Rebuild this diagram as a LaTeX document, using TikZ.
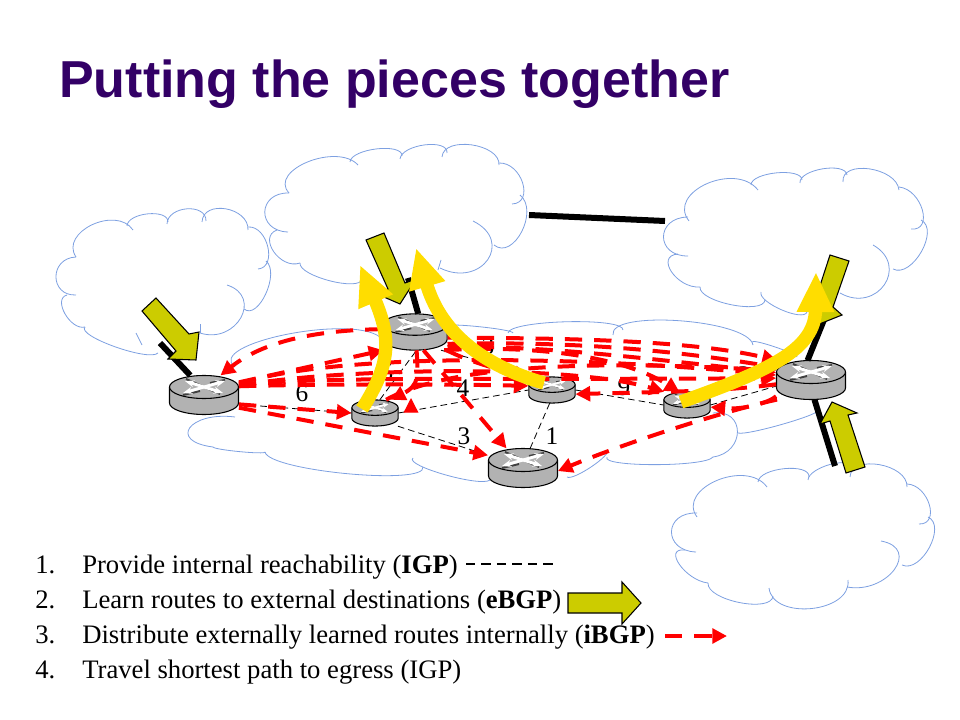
\documentclass[tikz,border=0pt]{standalone}
\usepackage{fontspec}
\setmainfont{Liberation Serif}
\newfontfamily\titlefont{Liberation Sans}
\usetikzlibrary{arrows.meta,calc}

\definecolor{titlepurple}{RGB}{51,0,102}
\definecolor{cloudblue}{RGB}{125,160,225}
\definecolor{oliveblock}{RGB}{204,204,0}
\definecolor{routergray}{RGB}{178,178,178}
\definecolor{pathyellow}{RGB}{255,221,0}

\tikzset{
  cloudline/.style={draw=cloudblue,line width=0.6pt},
  igplink/.style={draw=black,line width=0.6pt,dash pattern=on 5pt off 3pt},
  ebgplink/.style={draw=black,line width=4.5pt},
  ibgplink/.style={draw=red,line width=3pt,dash pattern=on 13pt off 9pt,-{Triangle[length=11pt,width=11pt]}},
  egresspath/.style={draw=pathyellow,line width=10pt,-{Triangle[length=30pt,width=26pt]}},
  learnarrow/.style={draw=black,line width=0.8pt,fill=oliveblock},
  costlabel/.style={inner sep=0pt,font=\fontsize{19}{19}\selectfont},
  legendtext/.style={anchor=base west,inner sep=0pt,font=\fontsize{20}{22}\selectfont},
}

% start, middle, end of one arc of a cloud
\newcommand{\lobe}[3]{\draw [cloudline] #1 .. controls ($0.333*#1+1.333*#2-0.667*#3$) and ($0.333*#3+1.333*#2-0.667*#1$) .. #3 ;}

% name, centre, scale
\newcommand{\router}[3]{
\begin{scope}[shift={#2},scale=#3]
\draw [fill=routergray,line width=0.8pt] (-34.5,-8) -- (-34.5,8) arc [start angle=180,end angle=0,x radius=34.5,y radius=11.5] -- (34.5,-8) ;
\draw [fill=routergray,line width=0.8pt] (0,-8) ellipse [x radius=34.5,y radius=11.5] ;
\draw [black!75,line width=#3*1.5pt] (-21,0) -- (-4,-4) (21,-15) -- (6,-12) (-18,-16) -- (16,-1) ;
\draw [white,line width=#3*2.2pt,{Stealth[length=#3*7pt]}-{Stealth[length=#3*7pt]}] (-21,-2) -- (21,-14) ;
\draw [white,line width=#3*2.2pt,{Stealth[length=#3*7pt]}-{Stealth[length=#3*7pt]}] (-19,-14) -- (19,-2) ;
\node (#1) [inner sep=0pt,minimum width=#3*52pt,minimum height=#3*29pt] at (0,0) {};
\end{scope}
}

\begin{document}
\begin{tikzpicture}[x=0.75pt,y=0.75pt,yscale=-1,xscale=1]
\useasboundingbox (0,0) rectangle (960,720);

% Title
\node (title) [anchor=base west,inner sep=0pt,text=titlepurple,font=\titlefont\bfseries\fontsize{39}{40}\selectfont] at (59,98) {Putting the pieces together};

% Left cloud
\lobe{(76,257)}{(92,225)}{(133,230)}
\lobe{(127,226)}{(148,214)}{(168,222)}
\lobe{(167,224)}{(187,209)}{(206,221)}
\lobe{(202,222)}{(226,209)}{(248,230)}
\lobe{(248,227)}{(268,247)}{(258,269)}
\lobe{(266,261)}{(266,294)}{(244,309)}
\lobe{(227,285)}{(241,318)}{(200,333)}
\draw [cloudline] (200,324) -- (200,333) ;
\lobe{(76,295)}{(56,277)}{(76,257)}
\lobe{(67,295)}{(65,314)}{(85,327)}
\lobe{(85,327)}{(115,347)}{(158,353)}
\draw [cloudline] (136,333) -- (142,345) ;
% Top cloud
\lobe{(289,193)}{(308,162)}{(358,165)}
\lobe{(350,162)}{(377,149)}{(402,156)}
\lobe{(400,159)}{(425,145)}{(447,153)}
\lobe{(442,157)}{(472,145)}{(499,165)}
\lobe{(499,163)}{(523,183)}{(512,204)}
\lobe{(520,195)}{(522,232)}{(494,245)}
\lobe{(473,221)}{(488,260)}{(440,268)}
\draw [cloudline] (441,260) -- (438,270) ;
\lobe{(289,193)}{(265,212)}{(288,232)}
\lobe{(277,230)}{(274,252)}{(300,263)}
\lobe{(300,263)}{(330,281)}{(362,279)}
% Right top cloud
\lobe{(689,221)}{(707,184)}{(758,190)}
\lobe{(751,185)}{(777,173)}{(802,180)}
\lobe{(800,183)}{(823,169)}{(847,175)}
\lobe{(843,182)}{(870,169)}{(899,190)}
\lobe{(899,187)}{(923,210)}{(911,229)}
\lobe{(921,220)}{(922,252)}{(893,269)}
\lobe{(873,245)}{(885,285)}{(840,293)}
\lobe{(688,217)}{(664,237)}{(688,256)}
\lobe{(678,254)}{(672,272)}{(700,287)}
\lobe{(700,287)}{(732,305)}{(765,300)}
\lobe{(761,292)}{(782,310)}{(807,312)}
% Right bottom cloud
\lobe{(697,517)}{(717,481)}{(767,487)}
\lobe{(758,482)}{(785,469)}{(809,477)}
\lobe{(808,480)}{(830,465)}{(850,468)}
\lobe{(850,477)}{(880,465)}{(907,487)}
\lobe{(907,484)}{(930,505)}{(919,524)}
\lobe{(928,517)}{(930,548)}{(902,565)}
\lobe{(881,541)}{(895,570)}{(847,587)}
\lobe{(848,580)}{(812,609)}{(769,588)}
\lobe{(773,596)}{(740,603)}{(708,583)}
\lobe{(708,583)}{(680,565)}{(685,550)}
\lobe{(696,552)}{(672,532)}{(697,513)}
% Centre cloud
\lobe{(235,367)}{(285,335)}{(380,337)}
\lobe{(445,326)}{(480,327)}{(513,333)}
\lobe{(508,333)}{(567,322)}{(623,330)}
\lobe{(613,335)}{(680,321)}{(753,345)}
\lobe{(752,342)}{(775,347)}{(797,357)}
\lobe{(817,410)}{(785,424)}{(738,433)}
\lobe{(713,413)}{(738,432)}{(713,457)}
\lobe{(713,457)}{(655,465)}{(607,457)}
\lobe{(607,450)}{(592,467)}{(567,477)}
\lobe{(235,417)}{(190,428)}{(213,447)}
\lobe{(213,447)}{(240,452)}{(265,452)}
\lobe{(265,452)}{(347,474)}{(423,467)}
\lobe{(413,458)}{(445,475)}{(490,480)}

% Outer links
\coordinate (leftedge) at (160,343);
\coordinate (topedge) at (408,278);
\coordinate (topright) at (529,215);
\coordinate (rightedge) at (665,221);
\coordinate (rightup) at (832,300);
\coordinate (rightdown) at (835,466);

% Routers
\router{Rleft}{(204,395)}{1}
\router{Rtop}{(415,332)}{0.93}
\router{Rmid}{(375,413)}{0.67}
\router{Rcore}{(552,390)}{0.67}
\router{Rnear}{(687,405)}{0.67}
\router{Rright}{(811,380)}{1}
\router{Rbottom}{(523,468)}{1}

\draw [ebgplink] (leftedge) -- (Rleft.125) ;
\draw [ebgplink] (topedge) -- (Rtop.80) ;
\draw [ebgplink] (topright) -- (rightedge) ;
\draw [ebgplink] (rightup) -- (Rright.100) ;
\draw [ebgplink] (rightdown) -- (Rright.-80) ;

% Internal links
\draw [igplink] (Rleft.-15) -- (Rmid.west) ;
\draw [igplink] (Rmid.70) -- (Rtop.-85) ;
\draw [igplink] (Rtop.-35) -- (Rcore.135) ;
\draw [igplink] (Rmid.east) -- (Rcore.west) ;
\draw [igplink] (Rmid.-30) -- (Rbottom.160) ;
\draw [igplink] (Rcore.-100) -- (Rbottom.70) ;
\draw [igplink] (Rcore.east) -- (Rnear.west) ;
\draw [igplink] (Rnear.east) -- (Rright.190) ;

% Costs
\node (costa) [costlabel] at (302,393) {6};
\node (costb) [costlabel] at (463,388) {4};
\node (costc) [costlabel] at (624,387) {9};
\node (costd) [costlabel] at (464,436) {3};
\node (coste) [costlabel] at (552,436) {1};
\node (costf) [costlabel] at (488,346) {3};
\node (costg) [costlabel] at (387,372) {5};
\node (costh) [costlabel] at (744,375) {2};

% iBGP mesh
\draw [ibgplink] (Rtop.175) .. controls (320,330) and (265,340) .. (Rleft.50) ;
\draw [ibgplink] (Rleft.20) -- (Rtop.-150) ;
\draw [ibgplink] (Rleft.16) .. controls (320,376) and (500,380) .. (Rright.177) ;
\draw [ibgplink] (Rleft.14) .. controls (310,384) and (440,384) .. (Rcore.170) ;
\draw [ibgplink] (Rleft.18) .. controls (340,352) and (580,356) .. (Rright.172) ;
\draw [ibgplink] (Rleft.15) .. controls (340,368) and (570,364) .. (Rnear.150) ;
\draw [ibgplink] (Rleft.-15) -- (Rmid.west) ;
\draw [ibgplink] (Rleft.-20) -- (Rbottom.160) ;
\draw [ibgplink] (Rtop.-10) .. controls (560,338) and (690,340) .. (Rright.150) ;
\draw [ibgplink] (Rtop.-20) .. controls (540,342) and (640,345) .. (Rright.160) ;
\draw [ibgplink] (Rtop.-25) .. controls (540,345) and (640,358) .. (Rright.168) ;
\draw [ibgplink] (Rtop.-30) .. controls (470,362) and (500,370) .. (Rcore.150) ;
\draw [ibgplink] (Rtop.-32) .. controls (530,345) and (620,355) .. (Rnear.120) ;
\draw [ibgplink] (Rmid.50) .. controls (440,370) and (560,358) .. (Rright.165) ;
\draw [ibgplink] (Rtop.-85) .. controls (418,375) and (420,385) .. (Rmid.40) ;
\draw [ibgplink] (Rtop.-65) -- (Rbottom.130) ;
\draw [ibgplink] (Rright.-173) .. controls (720,392) and (650,392) .. (Rcore.-10) ;
\draw [ibgplink] (Rright.-155) .. controls (770,402) and (745,410) .. (Rnear.-5) ;
\draw [ibgplink] (Rright.-150) .. controls (720,412) and (620,445) .. (Rbottom.-5) ;
\coordinate (stubfoot) at (411,409);
\coordinate (stubtip) at (411,398);
\draw [draw=red,line width=1pt,-{Triangle[length=11pt,width=11pt]}] (stubfoot) -- (stubtip) ;

% Learned routes
\draw [learnarrow] (142,311) -- (156,298) -- (189,334) -- (199,332) -- (196,360) -- (168,359) -- (176,351) -- cycle ;
\draw [learnarrow] (366,240) -- (384,233) -- (405,283) -- (416,279) -- (400,304) -- (377,294) -- (388,289) -- cycle ;
\draw [learnarrow] (830,255) -- (849,261) -- (833,307) -- (842,315) -- (817,325) -- (806,298) -- (815,301) -- cycle ;
\draw [learnarrow] (846,473) -- (865,467) -- (848,415) -- (857,413) -- (832,402) -- (820,424) -- (830,421) -- cycle ;

% Shortest paths
\coordinate (tipa) at (360,265);
\coordinate (tipb) at (416,248);
\coordinate (tipc) at (816,272);
\draw [egresspath] ([shift={(-13,-4)}]Rmid.center) .. controls (390,365) and (392,340) .. (tipa) ;
\draw [egresspath] ([shift={(-8,-7)}]Rcore.center) .. controls (480,365) and (440,330) .. (tipb) ;
\draw [egresspath] ([shift={(-6,-3)}]Rnear.center) .. controls (770,370) and (815,350) .. (tipc) ;

% Legend
\node (numa) [legendtext] at (35,573) {1.};
\node (numb) [legendtext] at (35,608) {2.};
\node (numc) [legendtext] at (35,643) {3.};
\node (numd) [legendtext] at (35,678) {4.};
\node (itema) [legendtext] at (82,573) {Provide internal reachability (\textbf{IGP})};
\node (itemb) [legendtext] at (82,608) {Learn routes to external destinations (\textbf{eBGP})};
\node (itemc) [legendtext] at (82,643) {Distribute externally learned routes internally (\textbf{iBGP})};
\node (itemd) [legendtext] at (82,678) {Travel shortest path to egress (IGP)};
\coordinate (dasha) at (466,564);
\coordinate (dashb) at (556,564);
\draw [draw=black,line width=1.2pt,dash pattern=on 7pt off 4.6pt] (dasha) -- (dashb) ;
\draw [learnarrow] (568,593) -- (622,593) -- (622,582) -- (641,603) -- (622,624) -- (622,613) -- (568,613) -- cycle ;
\coordinate (dashc) at (665,636);
\coordinate (dashd) at (727,636);
\draw [ibgplink] (dashc) -- (dashd) ;

\end{tikzpicture}
\end{document}
